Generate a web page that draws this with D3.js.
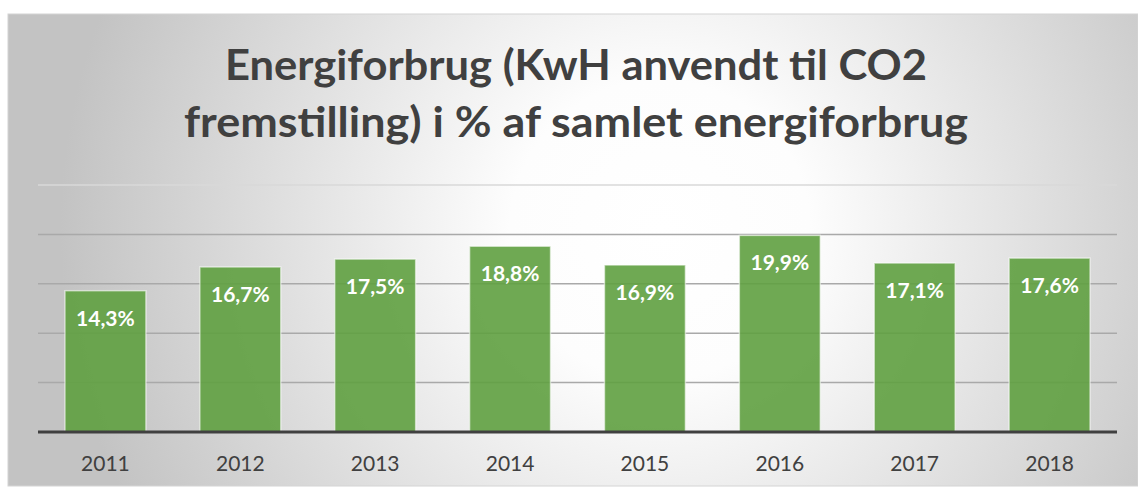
<!DOCTYPE html>
<html>
<head>
<meta charset="utf-8">
<script src="https://cdn.jsdelivr.net/npm/d3@7"></script>
<style>
  html, body { margin: 0; padding: 0; background: #ffffff; }
  svg { display: block; }
</style>
</head>
<body>
<svg id="chart" width="1138" height="487"></svg>
<script>
// ---- Data ----
const titleLines = ["Energiforbrug (KwH anvendt til CO2", "fremstilling) i % af samlet energiforbrug"];
const categories = ["2011", "2012", "2013", "2014", "2015", "2016", "2017", "2018"];
const values = [14.3, 16.7, 17.5, 18.8, 16.9, 19.9, 17.1, 17.6];
const yTicks = [0, 5, 10, 15, 20, 25];

// ---- Layout / style ----
const W = 1138, H = 487;
const panel = { x: 8, y: 14, w: 1130, h: 472 };
const plot = { left: 38, right: 1117, top: 185, bottom: 432 };
const textColor = "#404040";
const font = "Lato, 'Open Sans', 'DejaVu Sans', sans-serif";

const svg = d3.select("#chart");
const defs = svg.append("defs");
const grad = defs.append("radialGradient")
  .attr("id", "bg")
  .attr("gradientUnits", "userSpaceOnUse")
  .attr("cx", 660).attr("cy", 230).attr("r", 600);
grad.append("stop").attr("offset", "0").attr("stop-color", "#ffffff");
grad.append("stop").attr("offset", "0.25").attr("stop-color", "#fdfdfd");
grad.append("stop").attr("offset", "1").attr("stop-color", "#c3c3c3");

svg.append("rect")
  .attr("x", panel.x).attr("y", panel.y)
  .attr("width", panel.w).attr("height", panel.h)
  .attr("fill", "url(#bg)")
  .attr("stroke", "#d4d4d4").attr("stroke-width", 1);

// Title
const titleBaselines = [80, 137];
const titleWidths = [702, 784];
const cx = 576;
titleLines.forEach((t, i) => {
  const el = svg.append("text")
    .attr("x", cx).attr("y", titleBaselines[i])
    .attr("text-anchor", "middle")
    .attr("font-family", font)
    .attr("font-weight", "bold")
    .attr("font-size", 42)
    .attr("fill", textColor)
    .text(t);
  const len = el.node().getComputedTextLength();
  if (Math.abs(len - titleWidths[i]) > 4) {
    el.attr("textLength", titleWidths[i]).attr("lengthAdjust", "spacingAndGlyphs");
  }
});

// Scales
const x = d3.scaleBand()
  .domain(categories)
  .range([plot.left, plot.right])
  .paddingInner(0.4)
  .paddingOuter(0.2);
const y = d3.scaleLinear()
  .domain([0, 25])
  .range([plot.bottom, plot.top]);

// Gridlines
svg.append("g")
  .selectAll("line")
  .data(yTicks.filter(d => d > 0))
  .join("line")
  .attr("x1", plot.left).attr("x2", plot.right)
  .attr("y1", d => y(d)).attr("y2", d => y(d))
  .attr("stroke", d => d === 25 ? "#d9d9d9" : "#a9a9a9")
  .attr("stroke-width", 1.5);

// Bars
const data = categories.map((c, i) => ({ c, v: values[i] }));
svg.append("g")
  .selectAll("rect")
  .data(data)
  .join("rect")
  .attr("x", d => x(d.c))
  .attr("y", d => y(d.v))
  .attr("width", x.bandwidth())
  .attr("height", d => y(0) - y(d.v))
  .attr("fill", "#5fa040")
  .attr("fill-opacity", 0.9)
  .attr("stroke", "rgba(255,255,255,0.55)")
  .attr("stroke-width", 1.5);

// Value labels
const loc = d3.formatLocale({ decimal: ",", thousands: ".", grouping: [3], currency: ["", " kr."] });
const fmt = loc.format(".1f");
svg.append("g")
  .selectAll("text")
  .data(data)
  .join("text")
  .attr("x", d => x(d.c) + x.bandwidth() / 2)
  .attr("y", d => y(d.v) + 35)
  .attr("text-anchor", "middle")
  .attr("font-family", font)
  .attr("font-weight", "bold")
  .attr("font-size", 21)
  .attr("fill", "#ffffff")
  .text(d => fmt(d.v) + "%");

// X axis
const xAxis = svg.append("g")
  .attr("transform", `translate(0,${plot.bottom})`)
  .call(d3.axisBottom(x).tickSize(0));
xAxis.select(".domain").remove();
xAxis.selectAll("text")
  .attr("y", 39).attr("dy", 0)
  .attr("font-family", font)
  .attr("font-size", 21)
  .attr("fill", textColor);

// Baseline axis line
svg.append("line")
  .attr("x1", plot.left).attr("x2", plot.right)
  .attr("y1", y(0)).attr("y2", y(0))
  .attr("stroke", "#404040")
  .attr("stroke-width", 3);
</script>
</body>
</html>
